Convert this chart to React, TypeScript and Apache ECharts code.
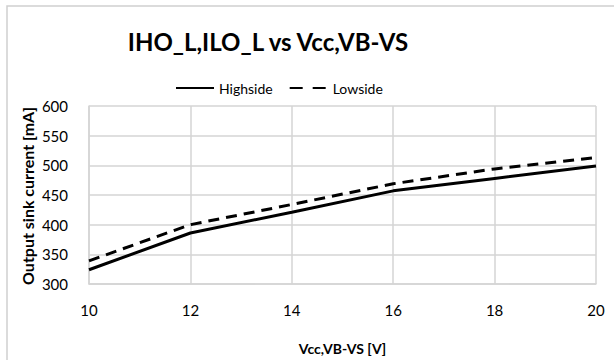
import React, { useEffect, useRef } from "react";
import * as echarts from "echarts";

const voltages = [10, 12, 14, 16, 18, 20];
const highside = [324, 386, 421, 457, 478, 499];
const lowside = [339, 400, 434, 469, 494, 513];
const titleText = "IHO_L,ILO_L vs Vcc,VB-VS";
const xName = "Vcc,VB-VS [V]";
const yName = "Output sink current [mA]";

export default function App() {
  const ref = useRef<HTMLDivElement>(null);
  useEffect(() => {
    const chart = echarts.init(ref.current!, null, { renderer: "svg" });
    const font = "Lato, 'Open Sans', sans-serif";
    const grid = "#d4d4d4";
    chart.setOption({
      animation: false,
      backgroundColor: "#ffffff",
      textStyle: { fontFamily: font },
      graphic: [
        {
          type: "rect",
          z: 100,
          shape: { x: 7, y: 6, width: 640, height: 400 },
          style: { fill: "transparent", stroke: "#d0d0d0", lineWidth: 1.5 },
          silent: true,
        },
        {
          type: "text",
          x: 27,
          y: 196,
          rotation: Math.PI / 2,
          style: {
            text: yName,
            font: `bold 16px ${font}`,
            fill: "#000",
            align: "center",
            verticalAlign: "middle",
          },
        },
      ],
      title: {
        text: titleText,
        left: 263,
        top: 24,
        textAlign: "center",
        textStyle: { fontFamily: font, fontWeight: "bold", fontSize: 24, color: "#000" },
      },
      legend: {
        top: 76,
        left: 170,
        itemWidth: 38,
        itemHeight: 12,
        itemGap: 16,
        itemStyle: { opacity: 0 },
        textStyle: { fontFamily: font, fontSize: 14, color: "#000", padding: [0, 0, 0, 0] },
        data: [
          { name: "Highside" },
          { name: "Lowside", lineStyle: { type: [13, 10] } },
        ],
      },
      grid: { left: 89, right: 18, top: 106, bottom: 76, containLabel: false },
      xAxis: {
        type: "value",
        min: 10,
        max: 20,
        interval: 2,
        name: xName,
        nameLocation: "middle",
        nameGap: 57,
        nameTextStyle: { fontFamily: font, fontWeight: "bold", fontSize: 14, color: "#000" },
        axisLine: { show: true, lineStyle: { color: grid, width: 1.5 } },
        axisTick: { show: false },
        axisLabel: { fontFamily: font, fontSize: 15, color: "#000", margin: 18 },
        splitLine: { show: true, lineStyle: { color: grid, width: 1.5 } },
      },
      yAxis: {
        type: "value",
        min: 300,
        max: 600,
        interval: 50,
        axisLine: { show: true, lineStyle: { color: grid, width: 1.5 } },
        axisTick: { show: false },
        axisLabel: { fontFamily: font, fontSize: 15, color: "#000", margin: 21 },
        splitLine: { show: true, lineStyle: { color: grid, width: 1.5 } },
      },
      series: [
        {
          name: "Highside",
          type: "line",
          data: voltages.map((v, i) => [v, highside[i]]),
          symbol: "none",
          lineStyle: { color: "#000", width: 3 },
          itemStyle: { color: "#000" },
        },
        {
          name: "Lowside",
          type: "line",
          data: voltages.map((v, i) => [v, lowside[i]]),
          symbol: "none",
          lineStyle: { color: "#000", width: 3, type: [11, 7] },
          itemStyle: { color: "#000" },
        },
      ],
    });
    return () => chart.dispose();
  }, []);
  return (
    <div
      ref={ref}
      style={{ position: "absolute", left: 0, top: 0, width: 614, height: 360 }}
    />
  );
}
